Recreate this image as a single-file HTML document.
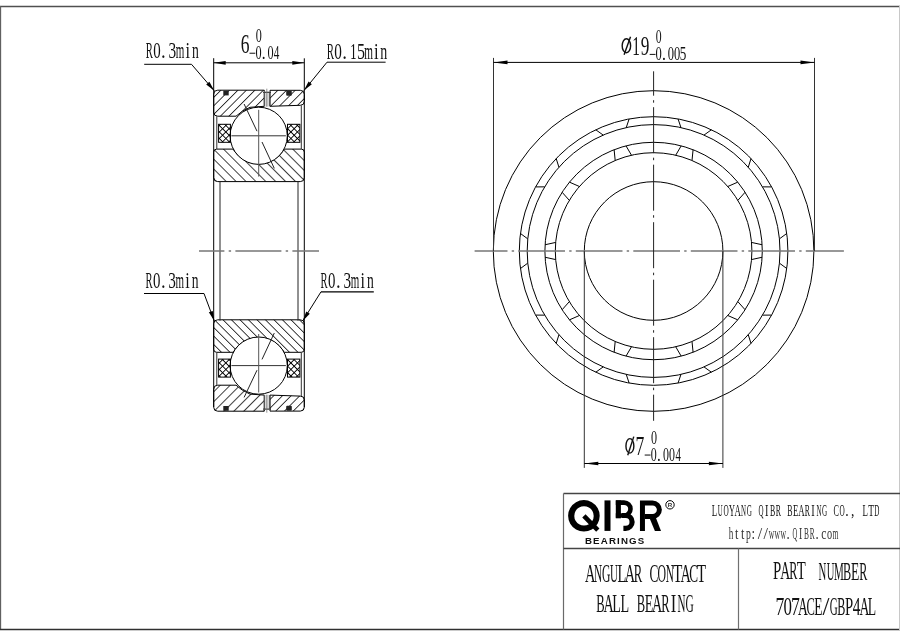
<!DOCTYPE html>
<html><head><meta charset="utf-8"><style>
html,body{margin:0;padding:0;background:#fff;width:900px;height:636px;overflow:hidden}
svg{display:block;will-change:transform}
</style></head><body>
<svg width="900" height="636" viewBox="0 0 900 636"><line x1="0.00" y1="6.50" x2="900.00" y2="6.50" stroke="#505050" stroke-width="1.3" />
<line x1="0.50" y1="6.00" x2="0.50" y2="630.00" stroke="#606060" stroke-width="1.3" />
<line x1="0.00" y1="629.50" x2="900.00" y2="629.50" stroke="#303030" stroke-width="1.3" />
<line x1="899.50" y1="6.00" x2="899.50" y2="630.00" stroke="#c8c8c8" stroke-width="1" />
<defs>
<pattern id="hf" patternUnits="userSpaceOnUse" width="6.01" height="6.01" patternTransform="translate(4.5,0) rotate(45)">
<line x1="0" y1="-1" x2="0" y2="7.2" stroke="#000" stroke-width="1.5"/></pattern>
<pattern id="hf2" patternUnits="userSpaceOnUse" width="6.15" height="6.15" patternTransform="translate(2.2,0) rotate(45)">
<line x1="0" y1="-1" x2="0" y2="7.2" stroke="#000" stroke-width="1.5"/></pattern>
<pattern id="hb" patternUnits="userSpaceOnUse" width="7.0" height="7.0" patternTransform="translate(4.4,0) rotate(-45)">
<line x1="0" y1="-1" x2="0" y2="8" stroke="#000" stroke-width="1.5"/></pattern>
<pattern id="hb2" patternUnits="userSpaceOnUse" width="6.15" height="6.15" patternTransform="translate(2.2,0) rotate(-45)">
<line x1="0" y1="-1" x2="0" y2="8" stroke="#000" stroke-width="1.5"/></pattern>
<pattern id="hx" patternUnits="userSpaceOnUse" width="4.6" height="4.6" patternTransform="translate(1.4,1.85) rotate(45)">
<line x1="2.3" y1="-1" x2="2.3" y2="5.6" stroke="#000" stroke-width="0.95"/><line x1="-1" y1="2.3" x2="5.6" y2="2.3" stroke="#000" stroke-width="0.95"/></pattern>
</defs>
<g>
<path d="M213.7,94.2 Q213.7,90.2 217.7,90.2 L264.3,90.2 L264.3,106.3 L250,107.3 Q242,110.5 236,116.2 L217.7,116.2 Q213.7,116.2 213.7,112.2 Z" fill="url(#hf)" stroke="#000" stroke-width="1"/>
<path d="M270,90.3 L300.3,90.3 Q304.3,90.3 304.3,94.3 L304.3,101.3 Q304.3,105.3 300.3,105.3 L270,106.3 Z" fill="url(#hf2)" stroke="#000" stroke-width="1"/>
<rect x="264.3" y="91.5" width="5.4" height="15" fill="#d8d8d8"/>
<line x1="263.00" y1="92.30" x2="271.00" y2="92.30" stroke="#222" stroke-width="1" />
<line x1="264.30" y1="92.30" x2="264.30" y2="106.30" stroke="#444" stroke-width="1" />
<line x1="269.70" y1="92.30" x2="269.70" y2="106.30" stroke="#444" stroke-width="1" />
<line x1="266.80" y1="88.70" x2="266.80" y2="106.70" stroke="#777" stroke-width="0.8" />
<rect x="223.3" y="90.6" width="5.4" height="4.8" fill="#222"/>
<rect x="286.2" y="90.7" width="5.6" height="5" fill="#222" rx="1"/>
<path d="M213.7,152.1 Q213.7,149.1 216.7,149.1 L233.2,149.1 A29.5,29.5 0 0 0 284.2,149.1 L301.3,149.1 Q304.3,149.1 304.3,152.1 L304.3,177.6 Q304.3,181.6 300.3,181.6 L217.7,181.6 Q213.7,181.6 213.7,177.6 Z" fill="url(#hb)" stroke="#000" stroke-width="1"/>
<circle cx="258.7" cy="135.8" r="28.6" fill="#fff" stroke="#000" stroke-width="1"/>
<line x1="231.40" y1="135.80" x2="285.90" y2="135.80" stroke="#333" stroke-width="1" />
<line x1="258.70" y1="109.80" x2="258.70" y2="176.60" stroke="#555" stroke-width="1" />
<line x1="244.10" y1="104.00" x2="257.00" y2="131.20" stroke="#222" stroke-width="1" />
<line x1="262.00" y1="142.00" x2="274.30" y2="168.40" stroke="#222" stroke-width="1" />
<rect x="218.6" y="124.3" width="11.8" height="18" fill="url(#hx)" stroke="#000" stroke-width="1"/>
<rect x="287.5" y="124.3" width="12.4" height="18" fill="url(#hx)" stroke="#000" stroke-width="1"/>
<line x1="216.80" y1="116.20" x2="216.80" y2="149.10" stroke="#333" stroke-width="1" />
<line x1="301.30" y1="105.30" x2="301.30" y2="149.10" stroke="#333" stroke-width="1" />
</g>
<g transform="translate(0,501.4) scale(1,-1)">
<path d="M213.7,94.2 Q213.7,90.2 217.7,90.2 L264.3,90.2 L264.3,106.3 L250,107.3 Q242,110.5 236,116.2 L217.7,116.2 Q213.7,116.2 213.7,112.2 Z" fill="url(#hb)" stroke="#000" stroke-width="1"/>
<path d="M270,90.3 L300.3,90.3 Q304.3,90.3 304.3,94.3 L304.3,101.3 Q304.3,105.3 300.3,105.3 L270,106.3 Z" fill="url(#hb2)" stroke="#000" stroke-width="1"/>
<rect x="264.3" y="91.5" width="5.4" height="15" fill="#d8d8d8"/>
<line x1="263.00" y1="92.30" x2="271.00" y2="92.30" stroke="#222" stroke-width="1" />
<line x1="264.30" y1="92.30" x2="264.30" y2="106.30" stroke="#444" stroke-width="1" />
<line x1="269.70" y1="92.30" x2="269.70" y2="106.30" stroke="#444" stroke-width="1" />
<line x1="266.80" y1="88.70" x2="266.80" y2="106.70" stroke="#777" stroke-width="0.8" />
<rect x="223.3" y="90.6" width="5.4" height="4.8" fill="#222"/>
<rect x="286.2" y="90.7" width="5.6" height="5" fill="#222" rx="1"/>
<path d="M213.7,152.1 Q213.7,149.1 216.7,149.1 L233.2,149.1 A29.5,29.5 0 0 0 284.2,149.1 L301.3,149.1 Q304.3,149.1 304.3,152.1 L304.3,177.6 Q304.3,181.6 300.3,181.6 L217.7,181.6 Q213.7,181.6 213.7,177.6 Z" fill="url(#hf)" stroke="#000" stroke-width="1"/>
<circle cx="258.7" cy="135.8" r="28.6" fill="#fff" stroke="#000" stroke-width="1"/>
<line x1="231.40" y1="135.80" x2="285.90" y2="135.80" stroke="#333" stroke-width="1" />
<line x1="258.70" y1="108.90" x2="258.70" y2="167.40" stroke="#555" stroke-width="1" />
<line x1="244.10" y1="104.00" x2="257.00" y2="131.20" stroke="#222" stroke-width="1" />
<line x1="262.00" y1="142.00" x2="274.30" y2="168.40" stroke="#222" stroke-width="1" />
<rect x="218.6" y="124.3" width="11.8" height="18" fill="url(#hx)" stroke="#000" stroke-width="1"/>
<rect x="287.5" y="124.3" width="12.4" height="18" fill="url(#hx)" stroke="#000" stroke-width="1"/>
<line x1="216.80" y1="116.20" x2="216.80" y2="149.10" stroke="#333" stroke-width="1" />
<line x1="301.30" y1="105.30" x2="301.30" y2="149.10" stroke="#333" stroke-width="1" />
</g>
<line x1="213.70" y1="58.20" x2="213.70" y2="407.00" stroke="#000" stroke-width="1" />
<line x1="304.30" y1="58.30" x2="304.30" y2="407.00" stroke="#000" stroke-width="1" />
<line x1="220.00" y1="181.60" x2="220.00" y2="320.70" stroke="#222" stroke-width="1" />
<line x1="298.00" y1="181.60" x2="298.00" y2="320.70" stroke="#222" stroke-width="1" />
<line x1="199.00" y1="250.90" x2="319.00" y2="250.90" stroke="#777" stroke-width="1.5" stroke-dasharray="46 4.3 2.4 4.3" stroke-dashoffset="20.6"/>
<line x1="213.70" y1="62.80" x2="304.30" y2="62.80" stroke="#000" stroke-width="1" />
<polygon points="213.70,62.80 225.70,60.90 225.70,64.70" fill="#000"/>
<polygon points="304.30,62.80 292.30,64.70 292.30,60.90" fill="#000"/>
<line x1="144.20" y1="64.30" x2="191.50" y2="64.30" stroke="#000" stroke-width="1" />
<line x1="191.50" y1="64.30" x2="214.30" y2="90.80" stroke="#000" stroke-width="1" />
<polygon points="214.30,90.80 206.19,84.59 209.37,81.85" fill="#000"/>
<line x1="327.00" y1="62.20" x2="385.60" y2="62.20" stroke="#000" stroke-width="1" />
<line x1="327.00" y1="62.20" x2="303.90" y2="90.60" stroke="#000" stroke-width="1" />
<polygon points="303.90,90.60 308.58,81.52 311.84,84.17" fill="#000"/>
<line x1="144.00" y1="293.50" x2="204.00" y2="293.50" stroke="#000" stroke-width="1" />
<line x1="204.00" y1="293.50" x2="214.30" y2="321.00" stroke="#000" stroke-width="1" />
<polygon points="214.30,321.00 208.83,312.37 212.76,310.90" fill="#000"/>
<line x1="321.00" y1="291.80" x2="373.80" y2="291.80" stroke="#000" stroke-width="1.3" />
<line x1="321.00" y1="291.80" x2="302.70" y2="321.00" stroke="#000" stroke-width="1" />
<polygon points="302.70,321.00 306.23,311.41 309.79,313.64" fill="#000"/>
<circle cx="653.6" cy="251.0" r="160.3" fill="none" stroke="#000" stroke-width="1"/>
<circle cx="653.6" cy="251.0" r="134.3" fill="none" stroke="#000" stroke-width="1"/>
<circle cx="653.6" cy="251.0" r="126.4" fill="none" stroke="#000" stroke-width="1"/>
<circle cx="653.6" cy="251.0" r="108.7" fill="none" stroke="#000" stroke-width="1"/>
<circle cx="653.6" cy="251.0" r="98.3" fill="none" stroke="#000" stroke-width="1"/>
<circle cx="653.6" cy="251.0" r="69.3" fill="none" stroke="#000" stroke-width="1"/>
<line x1="629.13" y1="118.95" x2="626.24" y2="127.60" stroke="#000" stroke-width="1" />
<line x1="626.02" y1="145.86" x2="631.49" y2="155.22" stroke="#000" stroke-width="1" />
<line x1="678.07" y1="118.95" x2="680.96" y2="127.60" stroke="#000" stroke-width="1" />
<line x1="681.18" y1="145.86" x2="675.71" y2="155.22" stroke="#000" stroke-width="1" />
<line x1="711.42" y1="129.78" x2="704.00" y2="135.08" stroke="#000" stroke-width="1" />
<line x1="693.09" y1="149.73" x2="692.01" y2="160.51" stroke="#000" stroke-width="1" />
<line x1="751.02" y1="158.55" x2="748.27" y2="167.24" stroke="#000" stroke-width="1" />
<line x1="737.72" y1="182.15" x2="727.79" y2="186.51" stroke="#000" stroke-width="1" />
<line x1="771.63" y1="186.92" x2="762.51" y2="186.85" stroke="#000" stroke-width="1" />
<line x1="745.07" y1="192.28" x2="737.86" y2="200.37" stroke="#000" stroke-width="1" />
<line x1="786.75" y1="233.47" x2="779.42" y2="238.89" stroke="#000" stroke-width="1" />
<line x1="762.12" y1="244.74" x2="751.53" y2="242.43" stroke="#000" stroke-width="1" />
<line x1="786.75" y1="268.53" x2="779.42" y2="263.11" stroke="#000" stroke-width="1" />
<line x1="762.12" y1="257.26" x2="751.53" y2="259.57" stroke="#000" stroke-width="1" />
<line x1="771.63" y1="315.08" x2="762.51" y2="315.15" stroke="#000" stroke-width="1" />
<line x1="745.07" y1="309.72" x2="737.86" y2="301.63" stroke="#000" stroke-width="1" />
<line x1="751.02" y1="343.45" x2="748.27" y2="334.76" stroke="#000" stroke-width="1" />
<line x1="737.72" y1="319.85" x2="727.79" y2="315.49" stroke="#000" stroke-width="1" />
<line x1="711.42" y1="372.22" x2="704.00" y2="366.92" stroke="#000" stroke-width="1" />
<line x1="693.09" y1="352.27" x2="692.01" y2="341.49" stroke="#000" stroke-width="1" />
<line x1="678.07" y1="383.05" x2="680.96" y2="374.40" stroke="#000" stroke-width="1" />
<line x1="681.18" y1="356.14" x2="675.71" y2="346.78" stroke="#000" stroke-width="1" />
<line x1="629.13" y1="383.05" x2="626.24" y2="374.40" stroke="#000" stroke-width="1" />
<line x1="626.02" y1="356.14" x2="631.49" y2="346.78" stroke="#000" stroke-width="1" />
<line x1="595.78" y1="372.22" x2="603.20" y2="366.92" stroke="#000" stroke-width="1" />
<line x1="614.11" y1="352.27" x2="615.19" y2="341.49" stroke="#000" stroke-width="1" />
<line x1="556.18" y1="343.45" x2="558.93" y2="334.76" stroke="#000" stroke-width="1" />
<line x1="569.48" y1="319.85" x2="579.41" y2="315.49" stroke="#000" stroke-width="1" />
<line x1="535.57" y1="315.08" x2="544.69" y2="315.15" stroke="#000" stroke-width="1" />
<line x1="562.13" y1="309.72" x2="569.34" y2="301.63" stroke="#000" stroke-width="1" />
<line x1="520.45" y1="268.53" x2="527.78" y2="263.11" stroke="#000" stroke-width="1" />
<line x1="545.08" y1="257.26" x2="555.67" y2="259.57" stroke="#000" stroke-width="1" />
<line x1="520.45" y1="233.47" x2="527.78" y2="238.89" stroke="#000" stroke-width="1" />
<line x1="545.08" y1="244.74" x2="555.67" y2="242.43" stroke="#000" stroke-width="1" />
<line x1="535.57" y1="186.92" x2="544.69" y2="186.85" stroke="#000" stroke-width="1" />
<line x1="562.13" y1="192.28" x2="569.34" y2="200.37" stroke="#000" stroke-width="1" />
<line x1="556.18" y1="158.55" x2="558.93" y2="167.24" stroke="#000" stroke-width="1" />
<line x1="569.48" y1="182.15" x2="579.41" y2="186.51" stroke="#000" stroke-width="1" />
<line x1="595.78" y1="129.78" x2="603.20" y2="135.08" stroke="#000" stroke-width="1" />
<line x1="614.11" y1="149.73" x2="615.19" y2="160.51" stroke="#000" stroke-width="1" />
<line x1="474.60" y1="251.00" x2="843.90" y2="251.00" stroke="#777" stroke-width="1.5" stroke-dasharray="46.7 4.2 2.4 4.2" stroke-dashoffset="13.8"/>
<line x1="653.60" y1="71.30" x2="653.60" y2="420.80" stroke="#222" stroke-width="1" stroke-dasharray="46 4.5 2.5 4.5" stroke-dashoffset="21.6"/>
<line x1="493.50" y1="57.90" x2="493.50" y2="251.00" stroke="#333" stroke-width="1" />
<line x1="814.50" y1="57.90" x2="814.50" y2="251.00" stroke="#333" stroke-width="1" />
<line x1="493.50" y1="62.40" x2="814.50" y2="62.40" stroke="#000" stroke-width="1" />
<polygon points="493.50,62.40 507.50,60.60 507.50,64.20" fill="#000"/>
<polygon points="814.50,62.40 800.50,64.20 800.50,60.60" fill="#000"/>
<line x1="584.30" y1="251.00" x2="584.30" y2="467.90" stroke="#333" stroke-width="1" />
<line x1="722.90" y1="251.00" x2="722.90" y2="467.90" stroke="#333" stroke-width="1" />
<line x1="584.30" y1="463.50" x2="722.90" y2="463.50" stroke="#000" stroke-width="1" />
<polygon points="584.30,463.50 598.30,461.70 598.30,465.30" fill="#000"/>
<polygon points="722.90,463.50 708.90,465.30 708.90,461.70" fill="#000"/>
<g text-anchor="middle" font-size="23.33" font-family="Liberation Serif, serif"  fill="#111"><text transform="translate(149.20,57.70) scale(0.457,1)">R</text><text transform="translate(156.90,57.70) scale(0.640,1)">0</text><text transform="translate(163.44,57.70) scale(0.800,1)">.</text><text transform="translate(172.30,57.70) scale(0.657,1)">3</text><text transform="translate(180.00,57.70) scale(0.473,1)">m</text><text transform="translate(187.70,57.70) scale(0.696,1)">i</text><text transform="translate(195.40,57.70) scale(0.587,1)">n</text></g>
<g text-anchor="middle" font-size="23.79" font-family="Liberation Serif, serif"  fill="#111"><text transform="translate(330.40,58.50) scale(0.457,1)">R</text><text transform="translate(338.03,58.50) scale(0.640,1)">0</text><text transform="translate(344.52,58.50) scale(0.800,1)">.</text><text transform="translate(353.29,58.50) scale(0.564,1)">1</text><text transform="translate(360.92,58.50) scale(0.673,1)">5</text><text transform="translate(368.55,58.50) scale(0.473,1)">m</text><text transform="translate(376.18,58.50) scale(0.696,1)">i</text><text transform="translate(383.81,58.50) scale(0.587,1)">n</text></g>
<g text-anchor="middle" font-size="23.18" font-family="Liberation Serif, serif"  fill="#111"><text transform="translate(149.00,287.80) scale(0.457,1)">R</text><text transform="translate(156.70,287.80) scale(0.640,1)">0</text><text transform="translate(163.25,287.80) scale(0.800,1)">.</text><text transform="translate(172.10,287.80) scale(0.657,1)">3</text><text transform="translate(179.80,287.80) scale(0.473,1)">m</text><text transform="translate(187.50,287.80) scale(0.696,1)">i</text><text transform="translate(195.20,287.80) scale(0.587,1)">n</text></g>
<g text-anchor="middle" font-size="23.18" font-family="Liberation Serif, serif"  fill="#111"><text transform="translate(324.00,287.80) scale(0.457,1)">R</text><text transform="translate(331.75,287.80) scale(0.640,1)">0</text><text transform="translate(338.34,287.80) scale(0.800,1)">.</text><text transform="translate(347.25,287.80) scale(0.657,1)">3</text><text transform="translate(355.00,287.80) scale(0.473,1)">m</text><text transform="translate(362.75,287.80) scale(0.696,1)">i</text><text transform="translate(370.50,287.80) scale(0.587,1)">n</text></g>
<g text-anchor="middle" font-size="27.58" font-family="Liberation Serif, serif"  fill="#111"><text transform="translate(245.20,53.20) scale(0.635,1)">6</text></g>
<g text-anchor="middle" font-size="18.94" font-family="Liberation Serif, serif"  fill="#111"><text transform="translate(258.90,41.80) scale(0.640,1)">0</text></g>
<line x1="249.50" y1="53.23" x2="255.30" y2="53.23" stroke="#111" stroke-width="1"/>
<g text-anchor="middle" font-size="19.09" font-family="Liberation Serif, serif"  fill="#111"><text transform="translate(258.45,58.90) scale(0.640,1)">0</text><text transform="translate(263.59,58.90) scale(0.800,1)">.</text><text transform="translate(270.55,58.90) scale(0.640,1)">0</text><text transform="translate(276.60,58.90) scale(0.584,1)">4</text></g>
<ellipse cx="626.40" cy="45.77" rx="4.23" ry="7.00" fill="none" stroke="#111" stroke-width="1.4"/>
<line x1="630.54" y1="36.80" x2="624.10" y2="54.75" stroke="#111" stroke-width="1.4"/>
<g text-anchor="middle" font-size="27.27" font-family="Liberation Serif, serif"  fill="#111"><text transform="translate(636.00,54.75) scale(0.564,1)">1</text><text transform="translate(645.10,54.75) scale(0.635,1)">9</text></g>
<g text-anchor="middle" font-size="18.33" font-family="Liberation Serif, serif"  fill="#111"><text transform="translate(658.70,42.70) scale(0.640,1)">0</text></g>
<line x1="649.70" y1="54.40" x2="655.50" y2="54.40" stroke="#111" stroke-width="1"/>
<g text-anchor="middle" font-size="19.55" font-family="Liberation Serif, serif"  fill="#111"><text transform="translate(658.70,60.20) scale(0.640,1)">0</text><text transform="translate(663.89,60.20) scale(0.800,1)">.</text><text transform="translate(670.90,60.20) scale(0.640,1)">0</text><text transform="translate(677.00,60.20) scale(0.640,1)">0</text><text transform="translate(683.10,60.20) scale(0.673,1)">5</text></g>
<ellipse cx="629.90" cy="445.90" rx="3.96" ry="7.25" fill="none" stroke="#111" stroke-width="1.4"/>
<line x1="633.77" y1="436.60" x2="627.75" y2="455.20" stroke="#111" stroke-width="1.4"/>
<g text-anchor="middle" font-size="26.36" font-family="Liberation Serif, serif"  fill="#111"><text transform="translate(639.90,454.80) scale(0.670,1)">7</text></g>
<g text-anchor="middle" font-size="18.94" font-family="Liberation Serif, serif"  fill="#111"><text transform="translate(654.10,443.70) scale(0.640,1)">0</text></g>
<line x1="644.70" y1="455.06" x2="650.50" y2="455.06" stroke="#111" stroke-width="1"/>
<g text-anchor="middle" font-size="18.64" font-family="Liberation Serif, serif"  fill="#111"><text transform="translate(653.70,460.60) scale(0.640,1)">0</text><text transform="translate(658.89,460.60) scale(0.800,1)">.</text><text transform="translate(665.90,460.60) scale(0.640,1)">0</text><text transform="translate(672.00,460.60) scale(0.640,1)">0</text><text transform="translate(678.10,460.60) scale(0.584,1)">4</text></g>
<g stroke="#444" stroke-width="1.4" fill="none">
<line x1="563.5" y1="493.5" x2="900" y2="493.5"/>
<line x1="563.5" y1="493.5" x2="563.5" y2="629.5" stroke="#6a6a6a" stroke-width="1.2"/>
<line x1="563.5" y1="548.5" x2="900" y2="548.5"/>
<line x1="738.5" y1="548.5" x2="738.5" y2="629.5" stroke="#707070" stroke-width="1.2"/>
</g>
<g text-anchor="middle" font-size="17.12" font-family="Liberation Serif, serif"  fill="#111"><text transform="translate(714.50,515.80) scale(0.519,1)">L</text><text transform="translate(720.30,515.80) scale(0.399,1)">U</text><text transform="translate(726.10,515.80) scale(0.423,1)">O</text><text transform="translate(731.90,515.80) scale(0.482,1)">Y</text><text transform="translate(737.70,515.80) scale(0.516,1)">A</text><text transform="translate(743.50,515.80) scale(0.404,1)">N</text><text transform="translate(749.30,515.80) scale(0.417,1)">G</text><text transform="translate(760.90,515.80) scale(0.408,1)">Q</text><text transform="translate(766.70,515.80) scale(0.607,1)">I</text><text transform="translate(772.50,515.80) scale(0.460,1)">B</text><text transform="translate(778.30,515.80) scale(0.457,1)">R</text><text transform="translate(789.90,515.80) scale(0.460,1)">B</text><text transform="translate(795.70,515.80) scale(0.510,1)">E</text><text transform="translate(801.50,515.80) scale(0.516,1)">A</text><text transform="translate(807.30,515.80) scale(0.457,1)">R</text><text transform="translate(813.10,515.80) scale(0.607,1)">I</text><text transform="translate(818.90,515.80) scale(0.404,1)">N</text><text transform="translate(824.70,515.80) scale(0.417,1)">G</text><text transform="translate(836.30,515.80) scale(0.475,1)">C</text><text transform="translate(842.10,515.80) scale(0.423,1)">O</text><text transform="translate(847.03,515.80) scale(0.800,1)">.</text><text transform="translate(852.83,515.80) scale(0.800,1)">,</text><text transform="translate(865.30,515.80) scale(0.519,1)">L</text><text transform="translate(871.10,515.80) scale(0.551,1)">T</text><text transform="translate(876.90,515.80) scale(0.415,1)">D</text></g>
<g text-anchor="middle" font-size="16.06" font-family="Liberation Serif, serif"  fill="#333"><text transform="translate(731.00,538.50) scale(0.568,1)">h</text><text transform="translate(736.80,538.50) scale(0.759,1)">t</text><text transform="translate(742.60,538.50) scale(0.759,1)">t</text><text transform="translate(748.40,538.50) scale(0.609,1)">p</text><text transform="translate(753.33,538.50) scale(0.800,1)">:</text><text transform="translate(760.00,538.50) scale(1.000,1)">/</text><text transform="translate(765.80,538.50) scale(1.000,1)">/</text><text transform="translate(771.60,538.50) scale(0.479,1)">w</text><text transform="translate(777.40,538.50) scale(0.479,1)">w</text><text transform="translate(783.20,538.50) scale(0.479,1)">w</text><text transform="translate(788.13,538.50) scale(0.800,1)">.</text><text transform="translate(794.80,538.50) scale(0.408,1)">Q</text><text transform="translate(800.60,538.50) scale(0.607,1)">I</text><text transform="translate(806.40,538.50) scale(0.460,1)">B</text><text transform="translate(812.20,538.50) scale(0.457,1)">R</text><text transform="translate(817.13,538.50) scale(0.800,1)">.</text><text transform="translate(823.80,538.50) scale(0.724,1)">c</text><text transform="translate(829.60,538.50) scale(0.640,1)">o</text><text transform="translate(835.40,538.50) scale(0.473,1)">m</text></g>
<g text-anchor="middle" font-size="25.30" font-family="Liberation Serif, serif"  fill="#111"><text transform="translate(590.20,581.60) scale(0.567,1)">A</text><text transform="translate(598.15,581.60) scale(0.445,1)">N</text><text transform="translate(606.10,581.60) scale(0.459,1)">G</text><text transform="translate(614.05,581.60) scale(0.438,1)">U</text><text transform="translate(622.00,581.60) scale(0.571,1)">L</text><text transform="translate(629.95,581.60) scale(0.567,1)">A</text><text transform="translate(637.90,581.60) scale(0.502,1)">R</text><text transform="translate(653.80,581.60) scale(0.522,1)">C</text><text transform="translate(661.75,581.60) scale(0.466,1)">O</text><text transform="translate(669.70,581.60) scale(0.445,1)">N</text><text transform="translate(677.65,581.60) scale(0.606,1)">T</text><text transform="translate(685.60,581.60) scale(0.567,1)">A</text><text transform="translate(693.55,581.60) scale(0.522,1)">C</text><text transform="translate(701.50,581.60) scale(0.606,1)">T</text></g>
<g text-anchor="middle" font-size="24.85" font-family="Liberation Serif, serif"  fill="#111"><text transform="translate(600.50,611.60) scale(0.506,1)">B</text><text transform="translate(608.60,611.60) scale(0.567,1)">A</text><text transform="translate(616.70,611.60) scale(0.571,1)">L</text><text transform="translate(624.80,611.60) scale(0.571,1)">L</text><text transform="translate(641.00,611.60) scale(0.506,1)">B</text><text transform="translate(649.10,611.60) scale(0.561,1)">E</text><text transform="translate(657.20,611.60) scale(0.567,1)">A</text><text transform="translate(665.30,611.60) scale(0.502,1)">R</text><text transform="translate(673.40,611.60) scale(0.668,1)">I</text><text transform="translate(681.50,611.60) scale(0.445,1)">N</text><text transform="translate(689.60,611.60) scale(0.459,1)">G</text></g>
<g text-anchor="middle" font-size="24.24" font-family="Liberation Serif, serif"  fill="#111"><text transform="translate(777.20,579.20) scale(0.612,1)">P</text><text transform="translate(785.20,579.20) scale(0.567,1)">A</text><text transform="translate(793.20,579.20) scale(0.502,1)">R</text><text transform="translate(801.20,579.20) scale(0.606,1)">T</text></g>
<g text-anchor="middle" font-size="24.24" font-family="Liberation Serif, serif"  fill="#111"><text transform="translate(822.50,580.40) scale(0.445,1)">N</text><text transform="translate(830.68,580.40) scale(0.438,1)">U</text><text transform="translate(838.86,580.40) scale(0.455,1)">M</text><text transform="translate(847.04,580.40) scale(0.506,1)">B</text><text transform="translate(855.22,580.40) scale(0.561,1)">E</text><text transform="translate(863.40,580.40) scale(0.502,1)">R</text></g>
<g text-anchor="middle" font-size="25.15" font-family="Liberation Serif, serif"  fill="#111"><text transform="translate(780.00,615.00) scale(0.703,1)">7</text><text transform="translate(787.67,615.00) scale(0.672,1)">0</text><text transform="translate(795.34,615.00) scale(0.703,1)">7</text><text transform="translate(803.01,615.00) scale(0.541,1)">A</text><text transform="translate(810.68,615.00) scale(0.498,1)">C</text><text transform="translate(818.35,615.00) scale(0.535,1)">E</text><text transform="translate(826.02,615.00) scale(1.000,1)">/</text><text transform="translate(833.69,615.00) scale(0.438,1)">G</text><text transform="translate(841.36,615.00) scale(0.483,1)">B</text><text transform="translate(849.03,615.00) scale(0.585,1)">P</text><text transform="translate(856.70,615.00) scale(0.614,1)">4</text><text transform="translate(864.37,615.00) scale(0.541,1)">A</text><text transform="translate(872.04,615.00) scale(0.545,1)">L</text></g>
<g fill="#000">
<path fill-rule="evenodd" d="M583.9,500.1 A15.8,15.7 0 1 0 583.91,500.1 Z M584,506.2 A9.7,9.7 0 1 1 583.99,506.2 Z"/>
<polygon points="582.25,517.40 585.55,514.20 599.45,528.60 596.15,531.80"/>
<rect x="604.5" y="500.4" width="6" height="30.5"/>
<rect x="615.8" y="500.4" width="5.1" height="17.9"/>
</g>
<g fill="none" stroke="#000">
<path d="M615.8,502.6 H624.05 A6.45,6.45 0 0 1 624.05,515.5 H615.8" stroke-width="4.6"/>
<path d="M623.4,528.3 H625.7 A6.4,6.4 0 0 0 625.7,515.5 H622" stroke-width="5.2"/>
<path d="M642.45,530.9 V502.9 H652.5 A6.85,6.85 0 0 1 652.5,516.6 H645" stroke-width="5"/>
</g>
<polygon points="649.2,517.2 655.7,517.2 661,530.9 654.9,530.9" fill="#000"/>
<circle cx="670" cy="504.8" r="4.2" fill="none" stroke="#000" stroke-width="1"/>
<text x="670" y="507.2" text-anchor="middle" font-size="6.2" font-family="Liberation Sans, sans-serif" font-weight="bold" fill="#333">R</text>
<text x="584.9" y="543.7" font-size="9.7" font-family="Liberation Sans, sans-serif" font-weight="bold" textLength="59.4" lengthAdjust="spacing" fill="#111">BEARINGS</text></svg>
</body></html>
